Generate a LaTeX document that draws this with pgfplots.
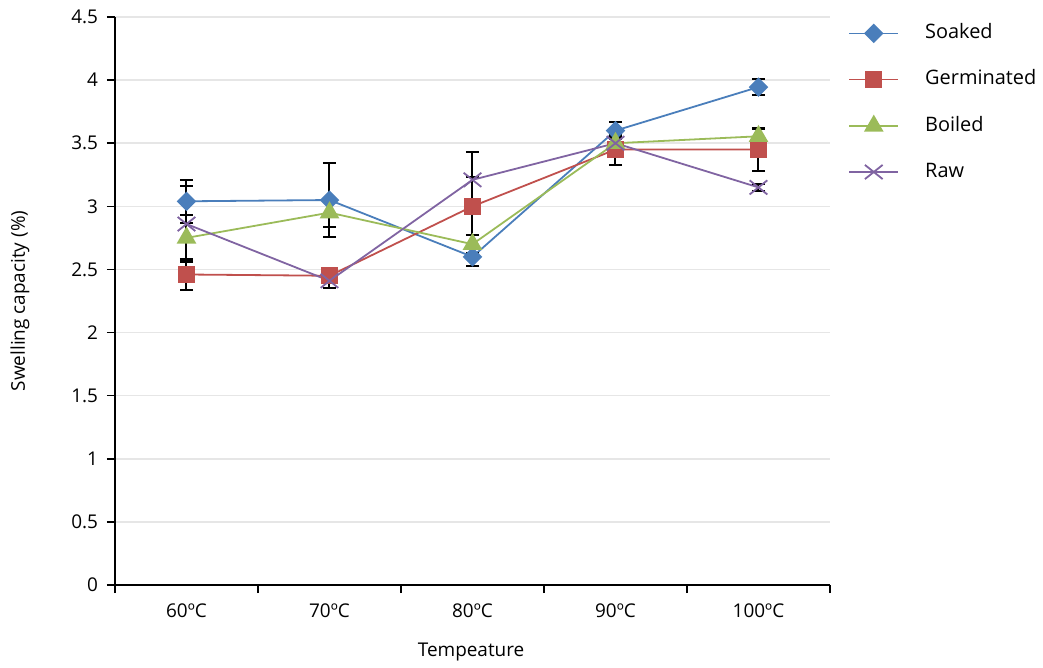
\documentclass[border=0pt]{standalone}
\usepackage{pgfplots}
\pgfplotsset{compat=1.18}
\usepackage{fontspec}
\setmainfont{Open Sans}
\definecolor{soaked}{HTML}{4A7EBB}
\definecolor{germ}{HTML}{C0504D}
\definecolor{boiled}{HTML}{9BBB59}
\definecolor{raw}{HTML}{8064A2}
\definecolor{gridc}{HTML}{E6E6E6}

\pgfplotsset{
  eb/.style={error bars/.cd, y dir=both, y explicit,
    error bar style={black, line width=1bp},
    error mark options={black, rotate=90, mark size=3.3bp, line width=1bp}},
}

\begin{document}
\begin{tikzpicture}[font=\fontsize{9.5}{11}\selectfont]
\useasboundingbox (-57.5bp,-41.5bp) rectangle (464bp,292.5bp);
\begin{axis}[
    scale only axis, width=357.5bp, height=284bp,
    xmin=0.5, xmax=5.5, ymin=0, ymax=4.5,
    axis x line*=bottom, axis y line*=left,
    axis line style={black, line width=0.75bp},
    xtick={0.5,1.5,2.5,3.5,4.5,5.5},
    x tick label as interval,
    xticklabels={60ºC,70ºC,80ºC,90ºC,100ºC},
    ytick={0,0.5,1,1.5,2,2.5,3,3.5,4,4.5},
    yticklabels={0,0.5,1,1.5,2,2.5,3,3.5,4,4.5},
    tick align=outside, major tick length=4bp,
    tick style={black, line width=0.75bp},
    x tick label style={yshift=-2bp},
    y tick label style={xshift=-1bp},
    ymajorgrids, grid style={gridc, line width=0.75bp},
    label style={font=\fontsize{10.2}{12}\selectfont},
    every axis x label/.style={at={(axis description cs:0.498,-0.118)}, anchor=center},
    every axis y label/.style={at={(axis description cs:-0.1329,0.5)}, rotate=90, anchor=center},
    xlabel={Tempeature},
    ylabel={Swelling capacity (\%)},
    legend style={at={(axis description cs:1,1)}, anchor=north west,
      xshift=9bp, yshift=-3.5bp, draw=none, fill=none, inner sep=0pt,
      row sep=14bp, font=\fontsize{10}{12}\selectfont,
      nodes={inner sep=0pt, text height=7bp, text depth=2bp},
      /tikz/every odd column/.append style={column sep=13bp}},
    legend cell align=left,
    legend image code/.code={\draw[#1, line width=0.9bp, mark repeat=2, mark phase=2]
      plot coordinates {(0bp,0bp) (12.25bp,0bp) (24.5bp,0bp)};},
    every axis plot/.append style={line width=0.9bp},
]
\addplot[soaked, mark=square*, mark size=3bp, mark options={rotate=45, fill=soaked, draw=soaked}, eb]
  coordinates {(1,3.04) +- (0,0.17) (2,3.05) +- (0,0.29) (3,2.60) +- (0,0.07) (4,3.60) +- (0,0.07) (5,3.945) +- (0,0.06)};
\addlegendentry{Soaked}
\addplot[germ, mark=square*, mark size=3.9bp, mark options={fill=germ, draw=germ}, eb]
  coordinates {(1,2.46) +- (0,0.12) (2,2.45) +- (0,0.05) (3,3.00) +- (0,0.23) (4,3.45) +- (0,0.12) (5,3.45) +- (0,0.17)};
\addlegendentry{Germinated}
\addplot[boiled, mark=triangle*, mark size=4.8bp, mark options={fill=boiled, draw=boiled}, eb]
  coordinates {(1,2.75) +- (0,0.18) (2,2.95) +- (0,0.11) (3,2.70) +- (0,0.07) (4,3.50) +- (0,0.05) (5,3.555) +- (0,0.06)};
\addlegendentry{Boiled}
\addplot[raw, mark=x, mark size=5bp, mark options={xscale=1.25, draw=raw}, eb]
  coordinates {(1,2.86) +- (0,0.30) (2,2.41) +- (0,0.06) (3,3.21) +- (0,0.22) (4,3.50) +- (0,0.06) (5,3.15) +- (0,0.03)};
\addlegendentry{Raw}
\end{axis}
\end{tikzpicture}
\end{document}
